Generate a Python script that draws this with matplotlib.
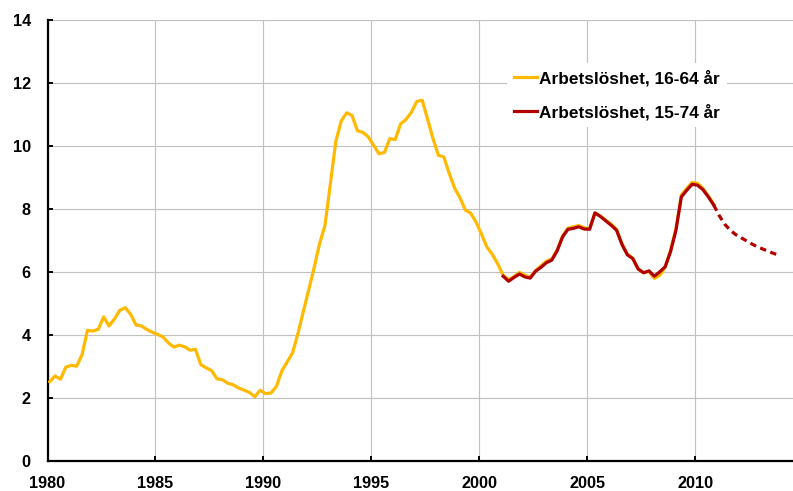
import numpy as np
import matplotlib
matplotlib.use('Agg')
import matplotlib.pyplot as plt

# Arbetslöshet per kvartal, första kvartalet 1980 = index 0
ald_16_64 = [2.52, 2.70, 2.60, 2.98, 3.04, 3.01, 3.38, 4.15, 4.13, 4.18,
             4.58, 4.29, 4.51, 4.79, 4.87, 4.66, 4.32, 4.29, 4.18, 4.09,
             4.02, 3.94, 3.75, 3.62, 3.68, 3.63, 3.52, 3.55, 3.06, 2.96,
             2.87, 2.61, 2.58, 2.47, 2.42, 2.32, 2.25, 2.18, 2.04, 2.25,
             2.14, 2.16, 2.37, 2.86, 3.15, 3.44, 4.06, 4.76, 5.45, 6.15,
             6.91, 7.49, 8.82, 10.15, 10.80, 11.06, 10.98, 10.49, 10.44, 10.30,
             10.03, 9.76, 9.80, 10.24, 10.21, 10.71, 10.85, 11.08, 11.42, 11.46,
             10.86, 10.24, 9.71, 9.66, 9.14, 8.67, 8.36, 7.97, 7.87, 7.58,
             7.20, 6.79, 6.56, 6.26, 5.90, 5.76, 5.86, 5.99, 5.90, 5.84,
             6.05, 6.20, 6.35, 6.42, 6.70, 7.15, 7.40, 7.44, 7.48, 7.41,
             7.38, 7.88, 7.78, 7.65, 7.52, 7.36, 6.90, 6.57, 6.45, 6.10,
             5.98, 6.02, 5.80, 5.90, 6.15, 6.70, 7.38, 8.45, 8.66, 8.85,
             8.82, 8.66, 8.42, 8.15]

# 15-74 år börjar vid kvartal 84
start_15_74 = 84
ald_15_74 = [5.87, 5.71, 5.83, 5.94, 5.85, 5.81, 6.03, 6.15, 6.30, 6.38,
             6.68, 7.12, 7.36, 7.39, 7.44, 7.37, 7.36, 7.88, 7.77, 7.63,
             7.49, 7.33, 6.88, 6.55, 6.43, 6.10, 5.98, 6.04, 5.87, 6.01,
             6.17, 6.65, 7.33, 8.39, 8.60, 8.79, 8.76, 8.62, 8.39, 8.13]

# prognos, från sista utfallet
prognos = [8.13, 7.80, 7.53, 7.34, 7.20, 7.10, 7.00, 6.90, 6.81, 6.74,
           6.67, 6.60, 6.54]

labels = ['Arbetslöshet, 16-64 år', 'Arbetslöshet, 15-74 år']
x_ticks = [1980, 1985, 1990, 1995, 2000, 2005, 2010]
y_ticks = [0, 2, 4, 6, 8, 10, 12, 14]


def kvartal(start, n):
    # kvartalsindex -> årtal på axeln
    return 1980 + (np.arange(start, start + n) + 0.4) / 4


plt.rcParams['font.family'] = ['Liberation Sans', 'DejaVu Sans']
plt.rcParams['font.weight'] = 'bold'

fig = plt.figure(figsize=(7.93, 4.91), dpi=100)
ax = fig.add_axes([0.0599, 0.0611, 0.9401, 0.8976])

gul = '#FFB900'
rod = '#B00000'

ax.plot(kvartal(0, len(ald_16_64)), ald_16_64, color=gul, lw=2.3,
        label=labels[0], zorder=3, solid_joinstyle='round')
ax.plot(kvartal(start_15_74, len(ald_15_74)), ald_15_74, color=rod, lw=2.3,
        label=labels[1], zorder=4, solid_joinstyle='round')
p_start = start_15_74 + len(ald_15_74) - 1
ax.plot(kvartal(p_start, len(prognos)), prognos, color=rod, lw=2.3,
        linestyle=(0, (2.0, 1.4)), zorder=4)

ax.set_xlim(1980, 2014.52)
ax.set_ylim(0, 14)
ax.set_xticks(x_ticks)
ax.set_yticks(y_ticks)
ax.grid(True, color='#C0C0C0', lw=0.8, zorder=0)
ax.set_axisbelow(True)

for s in ['top', 'right']:
    ax.spines[s].set_visible(False)
for s in ['left', 'bottom']:
    ax.spines[s].set_linewidth(1.6)
    ax.spines[s].set_color('black')

ax.tick_params(axis='both', direction='in', length=3.6, width=1.4,
               labelsize=11.7)
ax.tick_params(axis='y', pad=12)
ax.tick_params(axis='x', pad=10.5)
for t in ax.get_xticklabels() + ax.get_yticklabels():
    t.set_fontweight('bold')

leg = ax.legend(loc='center left', bbox_to_anchor=(0.617, 0.8305),
                borderaxespad=0, frameon=True, fancybox=False,
                facecolor='white', edgecolor='none', framealpha=1,
                handlelength=1.3, handletextpad=0.15, labelspacing=1.0,
                prop={'size': 12.4, 'weight': 'bold'})

fig.savefig('out.png', dpi=100)
